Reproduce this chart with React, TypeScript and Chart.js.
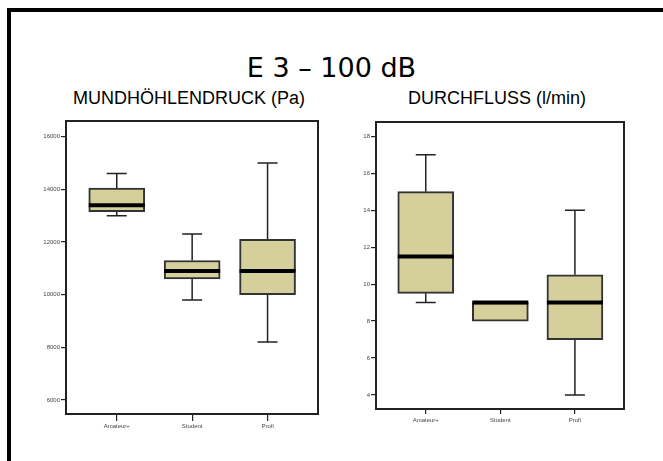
import React, { useEffect, useRef } from 'react';
import { Chart, registerables } from 'chart.js';

Chart.register(...registerables);

const categories = ['Amateur+', 'Student', 'Profi'];

// MUNDHÖHLENDRUCK (Pa)
const pressureMin = [13000, 9800, 8200];
const pressureQ1 = [13150, 10600, 10000];
const pressureMedian = [13400, 10900, 10900];
const pressureQ3 = [14050, 11300, 12100];
const pressureMax = [14600, 12300, 15000];
const pressureTicks = [6000, 8000, 10000, 12000, 14000, 16000];

// DURCHFLUSS (l/min)
const flowMin = [9, 8, 4];
const flowQ1 = [9.5, 8, 7];
const flowMedian = [11.5, 9, 9];
const flowQ3 = [15, 9, 10.5];
const flowMax = [17, 9, 14];
const flowTicks = [4, 6, 8, 10, 12, 14, 16, 18];

const BOX_FILL = '#d4cf9b';
const BOX_BORDER = '#333333';
const BOX_WIDTH = 56;
const CAP_WIDTH = 20;

type Stats = { min: number[]; q1: number[]; med: number[]; q3: number[]; max: number[] };

type BoxProps = {
  left: number;
  top: number;
  width: number;
  height: number;
  stats: Stats;
  yMin: number;
  yMax: number;
  yTicks: number[];
  yAxisWidth: number;
  padding: { top: number; right: number; bottom: number; left: number };
  xTickLen: number;
  xLabelPad: number;
  xMin: number;
  xMax: number;
};

function makeBoxPlugin(stats: Stats) {
  return {
    id: 'boxWhiskers',
    beforeDatasetsDraw(chart: any) {
      const { ctx } = chart;
      const x = chart.scales.x;
      const y = chart.scales.y;
      ctx.save();
      ctx.strokeStyle = '#222222';
      ctx.lineWidth = 1.5;
      stats.q1.forEach((q1, i) => {
        const px = x.getPixelForValue(i);
        const half = CAP_WIDTH / 2;
        const segs: [number, number][] = [
          [stats.q3[i], stats.max[i]],
          [q1, stats.min[i]],
        ];
        segs.forEach(([from, to]) => {
          if (to === from) return;
          const py0 = y.getPixelForValue(from);
          const py1 = y.getPixelForValue(to);
          ctx.beginPath();
          ctx.moveTo(px, py0);
          ctx.lineTo(px, py1);
          ctx.moveTo(px - half, py1);
          ctx.lineTo(px + half, py1);
          ctx.stroke();
        });
      });
      ctx.restore();
    },
    afterDatasetsDraw(chart: any) {
      const { ctx, chartArea } = chart;
      const x = chart.scales.x;
      const y = chart.scales.y;
      ctx.save();
      ctx.strokeStyle = '#000000';
      ctx.lineWidth = 4;
      stats.med.forEach((m, i) => {
        const px = x.getPixelForValue(i);
        const py = y.getPixelForValue(m);
        ctx.beginPath();
        ctx.moveTo(px - BOX_WIDTH / 2, py);
        ctx.lineTo(px + BOX_WIDTH / 2, py);
        ctx.stroke();
      });
      ctx.strokeStyle = '#222222';
      ctx.lineWidth = 2;
      ctx.strokeRect(
        chartArea.left,
        chartArea.top,
        chartArea.right - chartArea.left,
        chartArea.bottom - chartArea.top
      );
      ctx.restore();
    },
  };
}

function BoxChart(props: BoxProps) {
  const ref = useRef<HTMLCanvasElement | null>(null);
  useEffect(() => {
    if (!ref.current) return;
    const s = props.stats;
    const chart = new Chart(ref.current, {
      type: 'bar',
      data: {
        datasets: [
          {
            data: s.q1.map((v, i) => ({ x: i, y: [v, s.q3[i]] })) as any,
            backgroundColor: BOX_FILL,
            borderColor: BOX_BORDER,
            borderWidth: 2,
            borderSkipped: false,
            barThickness: BOX_WIDTH,
          },
        ],
      },
      options: {
        animation: false,
        responsive: false,
        devicePixelRatio: 1,
        events: [],
        layout: { padding: props.padding },
        plugins: {
          legend: { display: false },
          tooltip: { enabled: false },
          title: { display: false },
        },
        scales: {
          x: {
            type: 'linear',
            min: props.xMin,
            max: props.xMax,
            offset: false,
            afterBuildTicks: (axis: any) => {
              axis.ticks = categories.map((_, i) => ({ value: i }));
            },
            afterFit: (axis: any) => {
              axis.height = 16;
            },
            grid: {
              offset: false,
              drawOnChartArea: false,
              drawTicks: true,
              tickLength: props.xTickLen,
              color: '#222222',
              lineWidth: 1.2,
            },
            border: { display: false },
            ticks: {
              autoSkip: false,
              maxRotation: 0,
              padding: props.xLabelPad,
              color: '#444444',
              font: { family: 'Liberation Sans', size: 6 },
              callback: (v: any) => categories[Math.round(Number(v))] ?? '',
            },
          },
          y: {
            type: 'linear',
            min: props.yMin,
            max: props.yMax,
            afterBuildTicks: (axis: any) => {
              axis.ticks = props.yTicks.map((v) => ({ value: v }));
            },
            afterFit: (axis: any) => {
              axis.width = props.yAxisWidth;
            },
            grid: {
              drawOnChartArea: false,
              drawTicks: true,
              tickLength: 5,
              color: '#222222',
              lineWidth: 1.2,
            },
            border: { display: false },
            ticks: {
              autoSkip: false,
              padding: 1,
              color: '#444444',
              font: { family: 'Liberation Sans', size: 6 },
              callback: (v: any) => String(v),
            },
          },
        },
      },
      plugins: [makeBoxPlugin(s)],
    } as any);
    return () => chart.destroy();
  }, []);
  return (
    <canvas
      ref={ref}
      width={props.width}
      height={props.height}
      style={{
        position: 'absolute',
        left: props.left,
        top: props.top,
        width: props.width,
        height: props.height,
      }}
    />
  );
}

export default function App() {
  return (
    <div
      style={{
        position: 'fixed',
        left: 0,
        top: 0,
        width: 663,
        height: 461,
        overflow: 'hidden',
        background: '#ffffff',
      }}
    >
      <div
        style={{
          position: 'absolute',
          left: 7,
          top: 8,
          width: 720,
          height: 520,
          borderTop: '4px solid #000',
          borderLeft: '4px solid #000',
        }}
      />
      <div
        style={{
          position: 'absolute',
          left: 0,
          width: 663,
          top: 54,
          textAlign: 'center',
          fontFamily: 'DejaVu Sans',
          fontSize: 27,
          lineHeight: '27px',
          color: '#000',
          whiteSpace: 'nowrap',
        }}
      >
        E 3 – 100 dB
      </div>
      <div
        style={{
          position: 'absolute',
          left: 39,
          width: 300,
          top: 89,
          textAlign: 'center',
          fontFamily: 'Liberation Sans',
          fontSize: 18,
          lineHeight: '18px',
          color: '#000',
          whiteSpace: 'nowrap',
        }}
      >
        MUNDHÖHLENDRUCK (Pa)
      </div>
      <div
        style={{
          position: 'absolute',
          left: 347,
          width: 300,
          top: 89,
          textAlign: 'center',
          fontFamily: 'Liberation Sans',
          fontSize: 18,
          lineHeight: '18px',
          color: '#000',
          whiteSpace: 'nowrap',
        }}
      >
        DURCHFLUSS (l/min)
      </div>
      <BoxChart
        left={0}
        top={110}
        width={330}
        height={320}
        stats={{ min: pressureMin, q1: pressureQ1, med: pressureMedian, q3: pressureQ3, max: pressureMax }}
        yMin={5469}
        yMax={16596}
        yTicks={pressureTicks}
        yAxisWidth={66}
        padding={{ top: 11, right: 12, bottom: 0, left: 0 }}
        xTickLen={7}
        xLabelPad={2}
        xMin={-0.673}
        xMax={2.669}
      />
      <BoxChart
        left={335}
        top={110}
        width={328}
        height={320}
        stats={{ min: flowMin, q1: flowQ1, med: flowMedian, q3: flowQ3, max: flowMax }}
        yMin={3.244}
        yMax={18.77}
        yTicks={flowTicks}
        yAxisWidth={41}
        padding={{ top: 12, right: 39, bottom: 5, left: 0 }}
        xTickLen={5}
        xLabelPad={3}
        xMin={-0.667}
        xMax={2.658}
      />
    </div>
  );
}
